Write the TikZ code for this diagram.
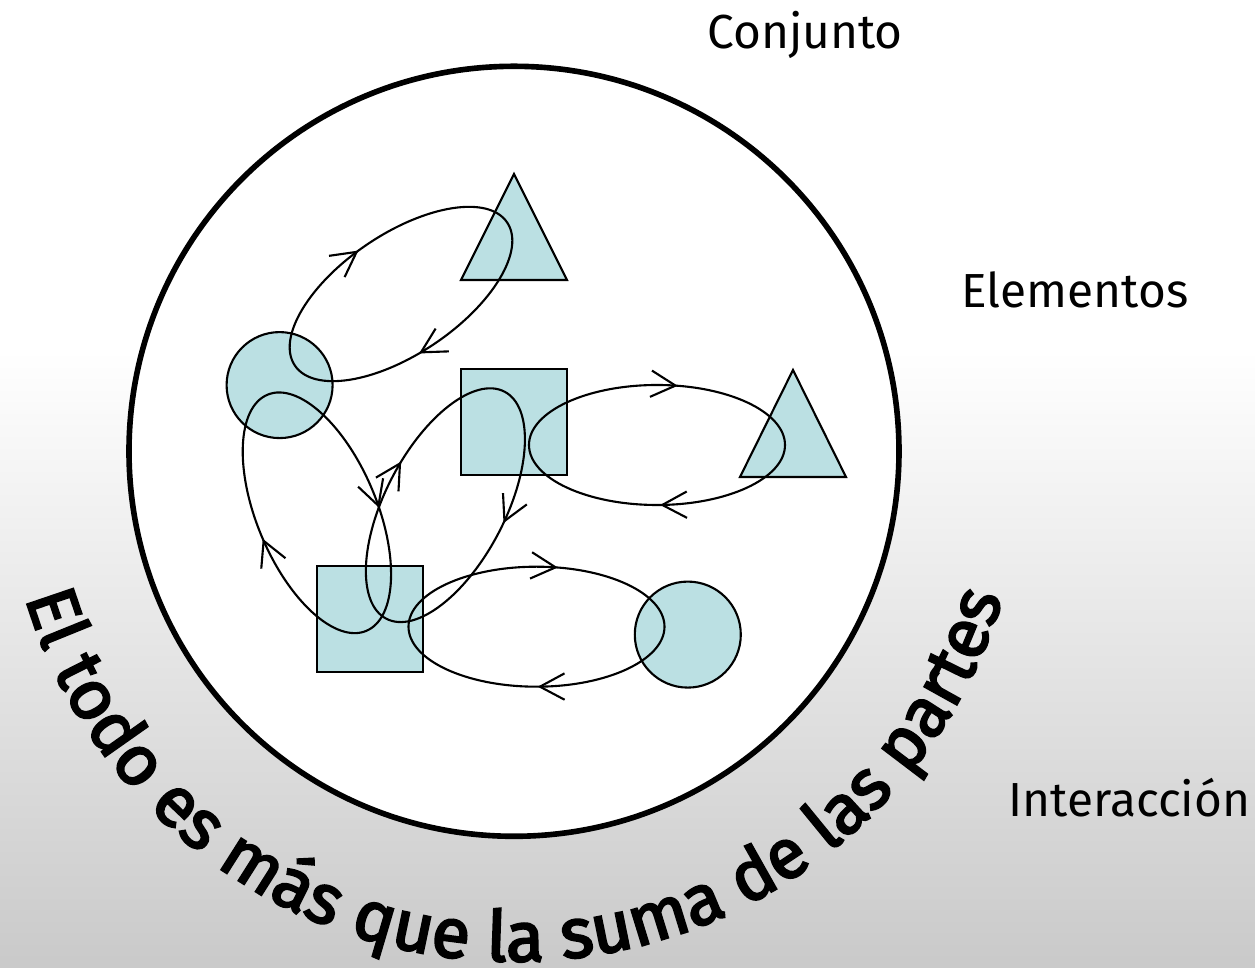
\documentclass[tikz,border=0pt]{standalone}
\usepackage{fontspec}
\setmainfont{Fira Sans}
\newfontfamily\partesfont{Fira Sans}[FakeBold=3]
\usetikzlibrary{arrows.meta,decorations.markings,decorations.text}
\definecolor{partblue}{RGB}{187,224,227}
\tikzset{
  part/.style={draw, fill=partblue, line width=0.6pt, inner sep=0pt},
  roundpart/.style={part, circle, minimum size=1.06cm},
  squarepart/.style={part, rectangle, minimum size=1.06cm},
  link/.style={line width=0.6pt},
  loopflow/.style 2 args={postaction={decorate, decoration={markings,
      mark=at position #1 with {\arrowreversed{Straight Barb[length=7pt,width=7.5pt]}},
      mark=at position #2 with {\arrowreversed{Straight Barb[length=7pt,width=7.5pt]}}}}},
  tag/.style={font=\fontsize{13.6}{16}\selectfont, anchor=base}
}
\begin{document}
\begin{tikzpicture}
  \useasboundingbox (0,0) rectangle (12.55,-9.68);
  \fill[white] (0,0) rectangle (12.55,-3.5);
  \shade[top color=white, middle color=black!5, bottom color=black!21] (0,-3.5) rectangle (12.55,-9.68);
  \node[draw, circle, fill=white, line width=1.6pt, minimum size=7.7cm, inner sep=0pt] (whole) at (5.14,-4.513) {};
  % elementos
  \node[roundpart] (c1) at (2.796,-3.851) {}; \node[roundpart] (c2) at (6.878,-6.346) {};
  \node[squarepart] (s1) at (5.14,-4.22) {}; \node[squarepart] (s2) at (3.696,-6.19) {};
  \draw[part] (5.14,-1.74) -- ++(0.53,-1.06) -- ++(-1.06,0) -- cycle;
  \draw[part] (7.93,-3.70) -- ++(0.53,-1.07) -- ++(-1.06,0) -- cycle;
  % interacciones
  \draw[link, loopflow={0.268}{0.72}, rotate around={34:(4.01,-2.94)}] (4.01,-2.94) ellipse (1.28 and 0.6);
  \draw[link, loopflow={0.216}{0.755}] (6.57,-4.45) ellipse (1.28 and 0.6);
  \draw[link, loopflow={0.215}{0.752}] (5.365,-6.267) ellipse (1.28 and 0.6);
  \draw[link, loopflow={0.22}{0.768}, rotate around={62.5:(4.454,-5.052)}] (4.454,-5.052) ellipse (1.28 and 0.6);
  \draw[link, loopflow={0.255}{0.718}, rotate around={112.7:(3.169,-5.128)}] (3.169,-5.128) ellipse (1.28 and 0.6);
  \node[tag] (conj) at (8.05,-0.49) {Conjunto};
  \node[tag] (elem) at (10.75,-3.08) {Elementos};
  \node[tag] (inter) at (11.295,-8.17) {Interacción};
  \path[decorate, decoration={text along path, text align=center,
      text={|\partesfont\fontsize{20}{24}\selectfont|El todo es más que la suma de las partes}}]
    (5.14,-4.513) ++(180:5.1) arc[start angle=180, end angle=360, radius=5.1];
\end{tikzpicture}
\end{document}
